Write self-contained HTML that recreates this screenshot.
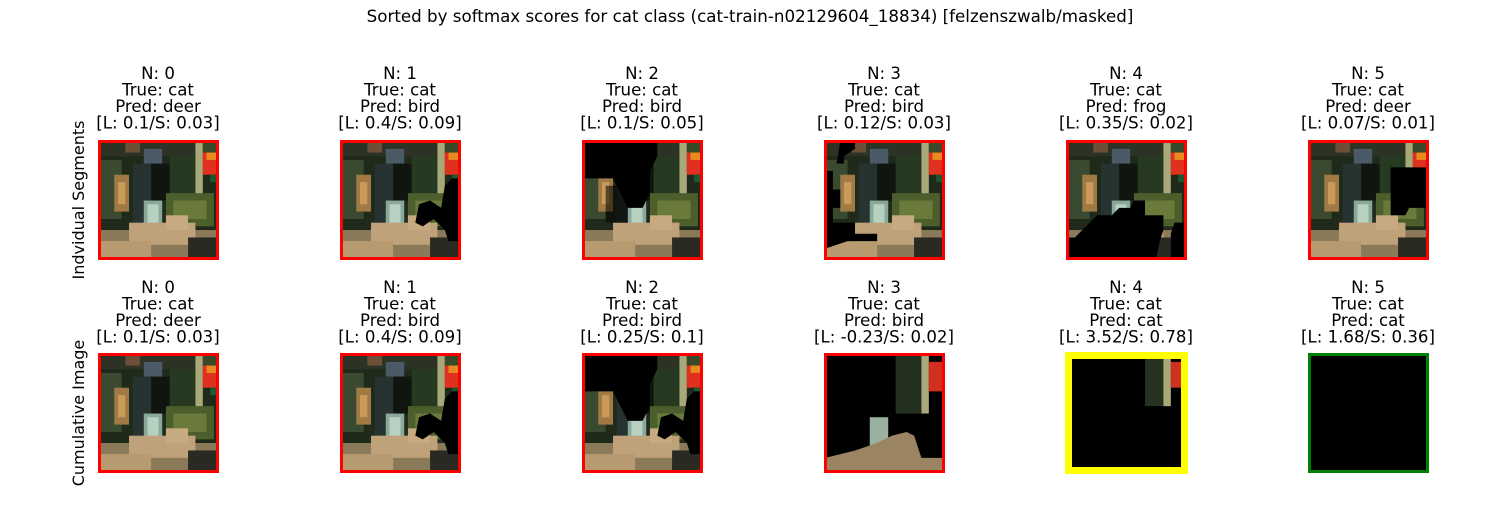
<!DOCTYPE html>
<html><head><meta charset="utf-8"><style>
body{margin:0;background:#fff;width:1500px;height:500px;overflow:hidden}
</style></head><body>
<svg width="1500" height="500" viewBox="0 0 1500 500" xmlns="http://www.w3.org/2000/svg" font-family="DejaVu Sans, Liberation Sans, sans-serif">
<defs>
<g id="img">
<rect x="0" y="0" width="32" height="32" fill="#1f2a1a"/>
<rect x="0" y="0" width="32" height="4" fill="#2c3324"/>
<rect x="7" y="0" width="4" height="3" fill="#6b4f36"/>
<rect x="12" y="2" width="5" height="4" fill="#4a5a66"/>
<rect x="0" y="5" width="6" height="16" fill="#3a4a30"/>
<rect x="4" y="9" width="4" height="10" fill="#a07a45"/>
<rect x="5" y="11" width="2" height="6" fill="#c99a5a"/>
<rect x="9" y="6" width="5" height="18" fill="#263330"/>
<rect x="14" y="6" width="6" height="10" fill="#101510"/>
<rect x="19" y="4" width="7" height="12" fill="#263a22"/>
<rect x="26" y="0" width="2" height="20" fill="#a8a878"/>
<rect x="28" y="0" width="4" height="3" fill="#3a4a28"/>
<rect x="28" y="3" width="4" height="6" fill="#e03020"/>
<rect x="29" y="3" width="3" height="2" fill="#e88a20"/>
<rect x="30" y="9" width="2" height="2" fill="#1a5a30"/>
<rect x="12" y="16" width="5" height="9" fill="#8aa89a"/>
<rect x="13" y="17" width="3" height="6" fill="#b8d0c0"/>
<rect x="18" y="14" width="13" height="9" fill="#4c5e2c"/>
<rect x="20" y="16" width="9" height="5" fill="#6a7a3a"/>
<rect x="0" y="24" width="32" height="8" fill="#8a7a5a"/>
<rect x="8" y="22" width="18" height="6" fill="#c0a27a"/>
<rect x="18" y="20" width="6" height="4" fill="#c8aa80"/>
<rect x="0" y="27" width="14" height="5" fill="#b89a70"/>
<rect x="24" y="26" width="8" height="6" fill="#2a2a22"/>
</g>
</defs>
<text x="750" y="22" font-size="16.7" text-anchor="middle">Sorted by softmax scores for cat class (cat-train-n02129604_18834) [felzenszwalb/masked]</text>
<g font-size="16.6" text-anchor="middle" fill="#000">
<text x="158" y="79">N: 0</text><text x="158" y="95.5">True: cat</text><text x="158" y="112">Pred: deer</text><text x="158" y="128.5">[L: 0.1/S: 0.03]</text>
<text x="400" y="79">N: 1</text><text x="400" y="95.5">True: cat</text><text x="400" y="112">Pred: bird</text><text x="400" y="128.5">[L: 0.4/S: 0.09]</text>
<text x="642" y="79">N: 2</text><text x="642" y="95.5">True: cat</text><text x="642" y="112">Pred: bird</text><text x="642" y="128.5">[L: 0.1/S: 0.05]</text>
<text x="884" y="79">N: 3</text><text x="884" y="95.5">True: cat</text><text x="884" y="112">Pred: bird</text><text x="884" y="128.5">[L: 0.12/S: 0.03]</text>
<text x="1126" y="79">N: 4</text><text x="1126" y="95.5">True: cat</text><text x="1126" y="112">Pred: frog</text><text x="1126" y="128.5">[L: 0.35/S: 0.02]</text>
<text x="1368" y="79">N: 5</text><text x="1368" y="95.5">True: cat</text><text x="1368" y="112">Pred: deer</text><text x="1368" y="128.5">[L: 0.07/S: 0.01]</text>

<text x="158" y="293">N: 0</text><text x="158" y="309.5">True: cat</text><text x="158" y="326">Pred: deer</text><text x="158" y="342.5">[L: 0.1/S: 0.03]</text>
<text x="400" y="293">N: 1</text><text x="400" y="309.5">True: cat</text><text x="400" y="326">Pred: bird</text><text x="400" y="342.5">[L: 0.4/S: 0.09]</text>
<text x="642" y="293">N: 2</text><text x="642" y="309.5">True: cat</text><text x="642" y="326">Pred: bird</text><text x="642" y="342.5">[L: 0.25/S: 0.1]</text>
<text x="884" y="293">N: 3</text><text x="884" y="309.5">True: cat</text><text x="884" y="326">Pred: bird</text><text x="884" y="342.5">[L: -0.23/S: 0.02]</text>
<text x="1126" y="293">N: 4</text><text x="1126" y="309.5">True: cat</text><text x="1126" y="326">Pred: cat</text><text x="1126" y="342.5">[L: 3.52/S: 0.78]</text>
<text x="1368" y="293">N: 5</text><text x="1368" y="309.5">True: cat</text><text x="1368" y="326">Pred: cat</text><text x="1368" y="342.5">[L: 1.68/S: 0.36]</text>
</g>
<text transform="translate(84,200) rotate(-90)" font-size="16" text-anchor="middle">Indvidual Segments</text>
<text transform="translate(84,413) rotate(-90)" font-size="16" text-anchor="middle">Cumulative Image</text>

<!-- Row 1 -->
<g transform="translate(99.5,141.5) scale(3.69)"><use href="#img"/></g>
<g transform="translate(341.5,141.5) scale(3.69)"><use href="#img"/>
<polygon points="30,10 32,10 32,27 29,27 28,24 25,21 22,23 20,22 21,17 24,16 27,18 28,12" fill="#000"/></g>
<g transform="translate(583.5,141.5) scale(3.69)"><use href="#img"/>
<polygon points="0,0 20,0 20,4 18,8 18,14 16,18 12,18 8,10 0,10" fill="#000"/>
<rect x="6" y="12" width="6" height="10" fill="#000" opacity="0.55"/></g>
<g transform="translate(825.5,141.5) scale(3.69)"><use href="#img"/>
<polygon points="0,8 2,8 2,13 4,13 4,18 2,18 2,22 8,22 8,25 14,25 14,27 6,27 0,29" fill="#000"/>
<polygon points="4,0 8,0 8,2 5,4 5,6 3,6" fill="#000"/></g>
<g transform="translate(1067.5,141.5) scale(3.69)"><use href="#img"/>
<polygon points="0,26 2,26 5,23 8,20 12,20 14,18 17,18 18,16 21,16 21,20 26,20 26,24 25,27 24,32 0,32" fill="#000"/>
<polygon points="29,22 32,22 32,32 28,32 28,25" fill="#000"/></g>
<g transform="translate(1309.5,141.5) scale(3.69)"><use href="#img"/>
<polygon points="22,7 32,7 32,18 27,18 26,20 22,20" fill="#000"/></g>
<g fill="none" stroke="#ff0000" stroke-width="3">
<rect x="99.5" y="141.5" width="118" height="117"/><rect x="341.5" y="141.5" width="118" height="117"/>
<rect x="583.5" y="141.5" width="118" height="117"/><rect x="825.5" y="141.5" width="118" height="117"/>
<rect x="1067.5" y="141.5" width="118" height="117"/><rect x="1309.5" y="141.5" width="118" height="117"/>
</g>

<!-- Row 2 -->
<g transform="translate(99.5,354.5) scale(3.69)"><use href="#img"/></g>
<g transform="translate(341.5,354.5) scale(3.69)"><use href="#img"/>
<polygon points="30,10 32,10 32,27 29,27 28,24 25,21 22,23 20,22 21,17 24,16 27,18 28,12" fill="#000"/></g>
<g transform="translate(583.5,354.5) scale(3.69)"><use href="#img"/>
<polygon points="0,0 20,0 20,4 18,8 18,14 16,18 12,18 8,10 0,10" fill="#000"/>
<polygon points="30,10 32,10 32,27 29,27 28,24 25,21 22,23 20,22 21,17 24,16 27,18 28,12" fill="#000"/></g>
<g transform="translate(825.5,354.5) scale(3.69)"><rect width="32" height="32" fill="#000"/>
<rect x="19" y="0" width="9" height="16" fill="#233020"/><rect x="26" y="0" width="2" height="16" fill="#a8a878"/>
<rect x="28" y="2" width="4" height="8" fill="#d03020"/>
<rect x="12" y="17" width="5" height="8" fill="#9ab0a0"/>
<polygon points="0,32 0,28 8,26 14,24 18,22 22,21 24,22 26,28 32,28 32,32" fill="#9a8462"/></g>
<g transform="translate(1067.5,354.5) scale(3.69)"><rect width="32" height="32" fill="#000"/>
<rect x="21" y="0" width="7" height="14" fill="#263220"/><rect x="26" y="0" width="2" height="14" fill="#a8a878"/>
<rect x="28" y="2" width="4" height="7" fill="#d03020"/></g>
<rect x="1309.5" y="354.5" width="118" height="117" fill="#000"/>
<g fill="none" stroke="#ff0000" stroke-width="3">
<rect x="99.5" y="354.5" width="118" height="117"/><rect x="341.5" y="354.5" width="118" height="117"/>
<rect x="583.5" y="354.5" width="118" height="117"/><rect x="825.5" y="354.5" width="118" height="117"/>
</g>
<rect x="1068.5" y="355.5" width="116" height="115" fill="none" stroke="#ffff00" stroke-width="7"/>
<rect x="1309.5" y="354.5" width="118" height="117" fill="none" stroke="#008000" stroke-width="3"/>
</svg>
</body></html>
